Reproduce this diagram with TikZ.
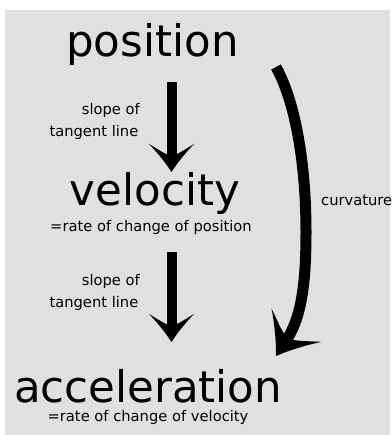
\documentclass[tikz,border=0pt]{standalone}
\usepackage{fontspec}
\setmainfont{DejaVu Sans}
\usetikzlibrary{arrows.meta}
\definecolor{bggray}{RGB}{224,224,224}
\pgfdeclarearrow{
  name = Swoop,
  parameters = {\the\pgfarrowlength,\the\pgfarrowwidth},
  setup code = {
    \pgfarrowssettipend{0pt}
    \pgfarrowssetbackend{-\pgfarrowlength}
    \pgfarrowssetlineend{-0.45\pgfarrowlength}
    \pgfarrowssavethe\pgfarrowlength
    \pgfarrowssavethe\pgfarrowwidth
  },
  drawing code = {
    \pgfpathmoveto{\pgfqpoint{0pt}{0pt}}
    \pgfpathcurveto
      {\pgfpoint{-0.35*\pgfarrowlength}{0.14*\pgfarrowwidth}}
      {\pgfpoint{-0.7*\pgfarrowlength}{0.32*\pgfarrowwidth}}
      {\pgfpoint{-\pgfarrowlength}{0.5*\pgfarrowwidth}}
    \pgfpathcurveto
      {\pgfpoint{-0.78*\pgfarrowlength}{0.27*\pgfarrowwidth}}
      {\pgfpoint{-0.62*\pgfarrowlength}{0.13*\pgfarrowwidth}}
      {\pgfpoint{-0.57*\pgfarrowlength}{0pt}}
    \pgfpathcurveto
      {\pgfpoint{-0.62*\pgfarrowlength}{-0.13*\pgfarrowwidth}}
      {\pgfpoint{-0.78*\pgfarrowlength}{-0.27*\pgfarrowwidth}}
      {\pgfpoint{-\pgfarrowlength}{-0.5*\pgfarrowwidth}}
    \pgfpathcurveto
      {\pgfpoint{-0.7*\pgfarrowlength}{-0.32*\pgfarrowwidth}}
      {\pgfpoint{-0.35*\pgfarrowlength}{-0.14*\pgfarrowwidth}}
      {\pgfqpoint{0pt}{0pt}}
    \pgfpathclose
    \pgfusepathqfill
  },
  defaults = {length=27pt, width=44pt}
}
\tikzset{
  big/.style={inner sep=0pt, font=\fontsize{43.5}{50}\selectfont},
  small/.style={inner sep=0pt, font=\fontsize{14.7}{17}\selectfont},
  vecarrow/.style={line width=10pt, -{Swoop[length=28pt,width=45pt]}},
  curvearrow/.style={line width=11pt, -{Swoop[length=37pt,width=60pt]}}
}
\begin{document}
\begin{tikzpicture}[x=1pt,y=-1pt]
\useasboundingbox (0,0) rectangle (391,435);
\fill[bggray] (5,10) rectangle (390,435);
\node[big, anchor=base] (pos) at (152.5,57) {position};
\node[big, anchor=base] (vel) at (155,205) {velocity};
\node[small, anchor=base] (veldef) at (151,231.7) {=rate of change of position};
\node[small, anchor=base east] (s1a) at (140,115) {slope of};
\node[small, anchor=base east] (s1b) at (138.5,137) {tangent line};
\node[small, anchor=base east] (s2a) at (140,285) {slope of};
\node[small, anchor=base east] (s2b) at (138.5,307) {tangent line};
\node[big, anchor=base, text depth=0pt] (acc) at (148,402) {acceleration};
\node[small, anchor=base] (accdef) at (148,421.7) {=rate of change of velocity};
\node[small, anchor=base west] (curv) at (321,205) {curvature};
\coordinate (a1s) at (171.5,82);
\coordinate (a1e) at (171.5,172);
\coordinate (a2s) at (171.5,252);
\coordinate (a2e) at (171.5,342);
\coordinate (cs) at (276,67);
\coordinate (cm) at (306,232);
\coordinate (ce) at (276,356);
\draw[vecarrow] (a1s) -- (a1e);
\draw[vecarrow] (a2s) -- (a2e);
\draw[curvearrow] (cs) .. controls (297,105) and (306,170) .. (cm) .. controls (306,290) and (300,320) .. (ce);
\end{tikzpicture}
\end{document}
